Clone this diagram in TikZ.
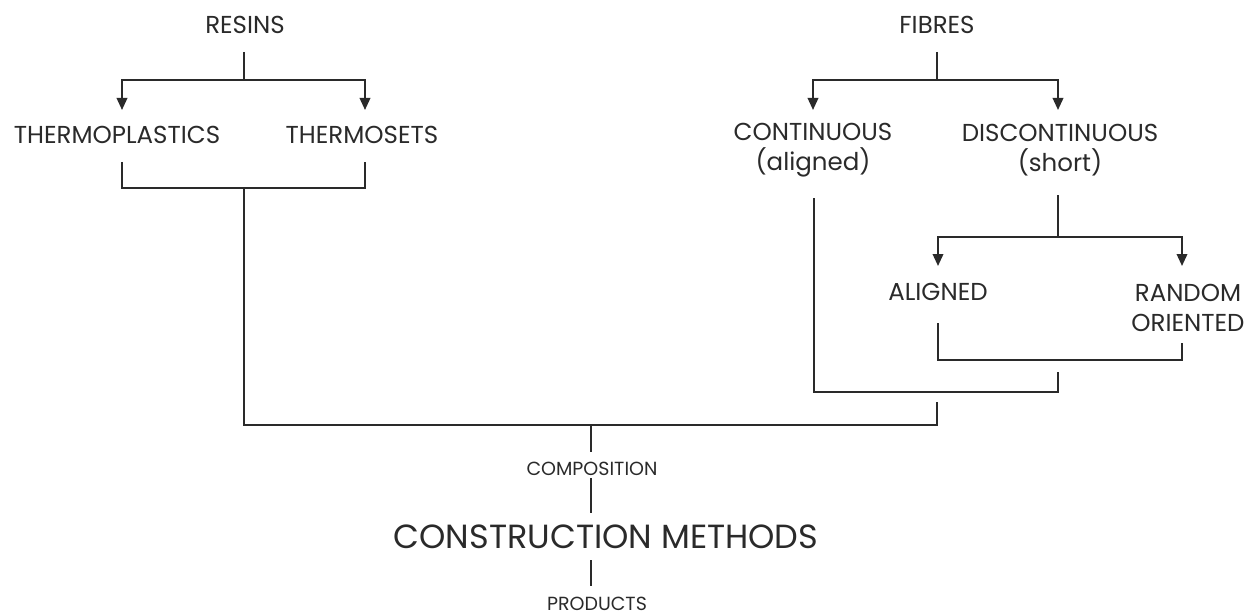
\documentclass[tikz,border=0pt]{standalone}
\usepackage{fontspec}
\setmainfont{Poppins}
\usetikzlibrary{arrows.meta}
\definecolor{ink}{HTML}{2A2A2A}
\begin{document}
\begin{tikzpicture}[x=1pt,y=-1pt,
  lbl/.style={inner sep=0pt, text=ink, font=\fontsize{24.5}{30}\selectfont, align=center},
  small/.style={lbl, font=\fontsize{19}{22}\selectfont},
  big/.style={lbl, font=\fontsize{33.5}{40}\selectfont},
  conn/.style={line width=2pt, draw=ink},
  arr/.style={conn, -{Triangle[length=12pt,width=10.5pt]}}]
\useasboundingbox (0,0) rectangle (1245,615);
% labels
\node[lbl] (resins) at (245,25) {RESINS};
\node[lbl] (tplast) at (117,135) {THERMOPLASTICS};
\node[lbl] (tsets) at (362,135) {THERMOSETS};
\node[lbl] (fibres) at (937,25) {FIBRES};
\node[lbl] (cont) at (813,150) {CONTINUOUS\\(aligned)};
\node[lbl] (disc) at (1060,150) {DISCONTINUOUS\\(short)};
\node[lbl] (aligned) at (938,292) {ALIGNED};
\node[lbl] (random) at (1188,308) {RANDOM\\ORIENTED};
\node[small] (comp) at (592,469) {COMPOSITION};
\node[big] (cm) at (606,537) {CONSTRUCTION METHODS};
\node[small] (prod) at (597,604) {PRODUCTS};
% coordinates
\coordinate (r0) at (244,52);  \coordinate (r1) at (244,80);
\coordinate (ra) at (122,110); \coordinate (rb) at (365,110);
\coordinate (t0) at (122,162); \coordinate (t1) at (365,162);
\coordinate (tj) at (244,188);
\coordinate (f0) at (937,52);  \coordinate (f1) at (937,80);
\coordinate (fa) at (813,110); \coordinate (fb) at (1058,110);
\coordinate (d0) at (1058,195); \coordinate (d1) at (1058,237);
\coordinate (da) at (938,266); \coordinate (db) at (1182,266);
\coordinate (a0) at (938,323); \coordinate (o0) at (1182,343);
\coordinate (ao) at (1058,360);
\coordinate (c0) at (814,198); \coordinate (s0) at (1058,372);
\coordinate (cs) at (1058,392);
\coordinate (m0) at (937,402); \coordinate (m1) at (937,425);
\coordinate (mc) at (591,425);
\coordinate (p0) at (591,452); \coordinate (p1) at (591,478);
\coordinate (p2) at (591,513); \coordinate (p3) at (591,560);
\coordinate (p4) at (591,586);
% resins branch
\draw[conn] (r0) -- (r1);
\draw[arr] (r1) -| (ra);
\draw[arr] (r1) -| (rb);
\draw[conn] (t0) |- (tj) -| (t1);
\draw[conn] (tj) |- (m1) -- (m0);
% fibres branch
\draw[conn] (f0) -- (f1);
\draw[arr] (f1) -| (fa);
\draw[arr] (f1) -| (fb);
\draw[conn] (d0) -- (d1);
\draw[arr] (d1) -| (da);
\draw[arr] (d1) -| (db);
\draw[conn] (a0) |- (ao) -| (o0);
\draw[conn] (c0) |- (cs) -- (s0);
% composition
\draw[conn] (mc) -- (p0);
\draw[conn] (p1) -- (p2);
\draw[conn] (p3) -- (p4);
\end{tikzpicture}
\end{document}
